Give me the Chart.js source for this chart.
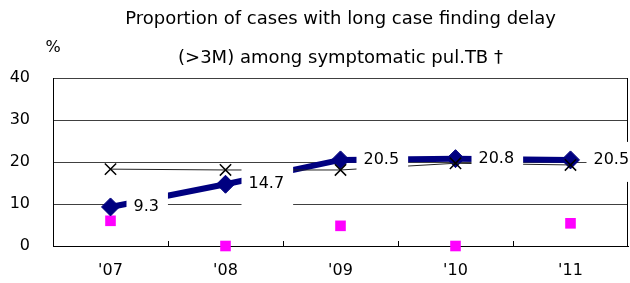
<!DOCTYPE html>
<html>
<head>
<meta charset="utf-8">
<script src="https://cdn.jsdelivr.net/npm/chart.js@4"></script>
<style>
  body { margin: 0; background: #fff; }
</style>
</head>
<body>
<canvas id="myChart" width="630" height="283"></canvas>
<script>
var years = ["'07", "'08", "'09", "'10", "'11"];
var longDelay = [9.3, 14.7, 20.5, 20.8, 20.5];
var pinkSeries = [6.0, 0, 4.8, 0, 5.4];
var crossSeries = [18.3, 18.1, 18.1, 19.7, 19.3];
var yMin = 0, yMax = 40, yStep = 10;
var titleLines = ["Proportion of cases with long case finding delay", "(>3M) among symptomatic pul.TB \u2020"];
var unitLabel = "%";

var FONT = "'DejaVu Sans', Verdana, sans-serif";

// frame on the right, little ticks between years, "%" and the value labels
var extras = {
  id: "extras",
  beforeDatasetsDraw: function(chart) {
    var a = chart.chartArea, ctx = chart.ctx, x = chart.scales.x;
    ctx.save();
    ctx.strokeStyle = "#000";
    ctx.lineWidth = 1;
    ctx.beginPath();
    ctx.moveTo(a.right - 0.5, a.top);
    ctx.lineTo(a.right - 0.5, a.bottom);
    for (var i = 0; i < years.length - 1; i++) {
      var px = Math.round((x.getPixelForValue(i) + x.getPixelForValue(i + 1)) / 2) + 0.5;
      ctx.moveTo(px, a.bottom);
      ctx.lineTo(px, a.bottom - 5);
    }
    ctx.stroke();
    ctx.fillStyle = "#000";
    ctx.font = "16px " + FONT;
    ctx.textAlign = "center";
    ctx.textBaseline = "middle";
    ctx.fillText(unitLabel, a.left, a.top - 30);
    ctx.restore();
  },
  afterDatasetsDraw: function(chart) {
    var ctx = chart.ctx;
    var meta = chart.getDatasetMeta(1);
    ctx.save();
    ctx.font = "16px " + FONT;
    ctx.textAlign = "left";
    ctx.textBaseline = "middle";
    meta.data.forEach(function(pt, i) {
      var txt = longDelay[i].toFixed(1);
      var w = ctx.measureText(txt).width;
      ctx.fillStyle = "#fff";
      ctx.fillRect(pt.x + 16, pt.y - 18, w + 16, 40);
      ctx.fillStyle = "#000";
      ctx.fillText(txt, pt.x + 23, pt.y);
    });
    ctx.restore();
  }
};

var ctx = document.getElementById("myChart");

var chart = new Chart(ctx, {
  type: "line",
  data: {
    labels: years,
    datasets: [
      {
        label: "cross",
        data: crossSeries,
        order: 0,
        borderColor: "#222",
        borderWidth: 1,
        pointStyle: "crossRot",
        pointRadius: 8,
        pointBorderColor: "#000",
        pointBorderWidth: 1.5,
        tension: 0
      },
      {
        label: "long delay",
        data: longDelay,
        order: 1,
        borderColor: "#000080",
        borderWidth: 6,
        pointStyle: "rectRot",
        pointRadius: 9,
        pointBackgroundColor: "#000080",
        pointBorderColor: "#000080",
        pointBorderWidth: 1,
        tension: 0
      },
      {
        label: "pink",
        data: pinkSeries,
        order: 2,
        showLine: false,
        clip: false,
        pointStyle: "rect",
        pointRadius: 7.5,
        pointBackgroundColor: "#ff00ff",
        pointBorderColor: "#ff00ff",
        pointBorderWidth: 0
      }
    ]
  },
  options: {
    responsive: false,
    animation: false,
    layout: { autoPadding: false, padding: { left: 0, right: 2, top: 0, bottom: 0 } },
    plugins: {
      legend: { display: false },
      tooltip: { enabled: false },
      title: {
        display: true,
        fullSize: false,
        text: titleLines,
        color: "#000",
        font: { family: FONT, size: 18, weight: "normal", lineHeight: "39px" },
        padding: { top: 0, bottom: 0 }
      }
    },
    scales: {
      x: {
        offset: true,
        grid: { display: false, drawTicks: false },
        border: { display: true, color: "#000", width: 1 },
        ticks: { color: "#000", font: { family: FONT, size: 16 }, padding: 15 },
        afterFit: function(scale) {
          scale.height = 37;
          scale.paddingLeft = 0;
          scale.paddingRight = 0;
        }
      },
      y: {
        min: yMin,
        max: yMax,
        ticks: { stepSize: yStep, color: "#000", font: { family: FONT, size: 16 }, padding: 23 },
        grid: { color: "#404040", lineWidth: 1, drawTicks: false },
        border: { display: true, color: "#000", width: 1 },
        afterFit: function(scale) { scale.width = 53; }
      }
    }
  },
  plugins: [extras]
});
</script>
</body>
</html>
